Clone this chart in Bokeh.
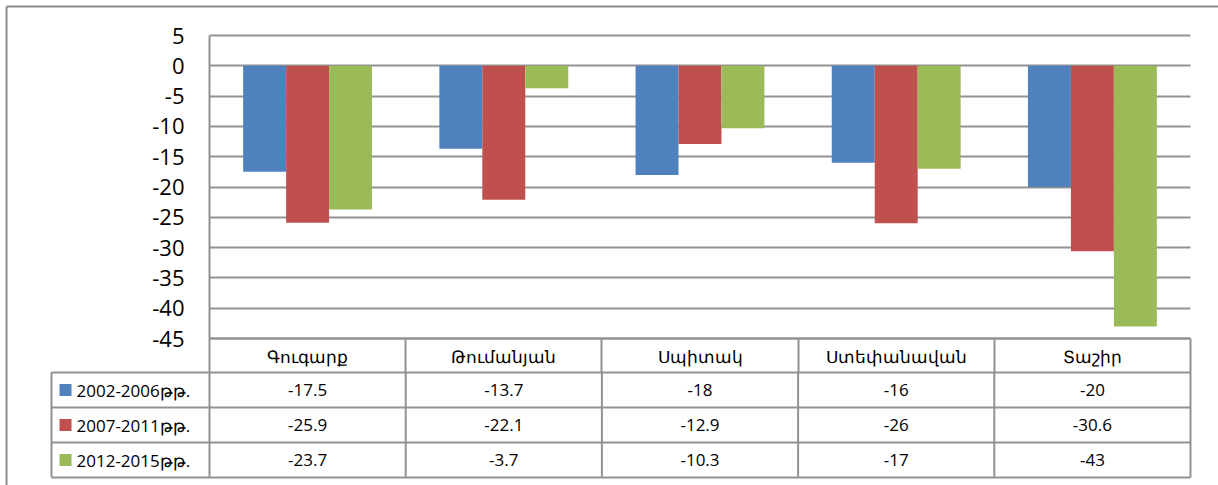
import numpy as np
from bokeh.plotting import figure
from bokeh.models import Range1d, FixedTicker, ColumnDataSource, LinearAxis, Grid
from bokeh.core.properties import value
from bokeh.embed import file_html
from bokeh.resources import INLINE

# ---------------- data ----------------
regions = ["Գուգարք", "Թումանյան", "Սպիտակ", "Ստեփանավան", "Տաշիր"]
periods = ["2002-2006թթ.", "2007-2011թթ.", "2012-2015թթ."]
s2002_2006 = [-17.5, -13.7, -18, -16, -20]
s2007_2011 = [-25.9, -22.1, -12.9, -26, -30.6]
s2012_2015 = [-23.7, -3.7, -10.3, -17, -43]
colors = ["#4F81BD", "#C0504D", "#9BBB59"]
y_ticks = [5, 0, -5, -10, -15, -20, -25, -30, -35, -40, -45]

series = [s2002_2006, s2007_2011, s2012_2015]

# ---------------- layout constants (pixels) ----------------
FONT = "Open Sans"
GRID = "#929292"
FRAME = "#8c8c8c"
W, H = 1218, 485
PL, PR = 209, 1190        # plot area left / right
PT, PB = 35, 338          # pixel rows of y=5 and y=-45
YMAX, YMIN = 5, -45
unit = (PR - PL) / len(regions)
ppu = (PB - PT) / (YMAX - YMIN)


def X(px):
    return (px - PL) / unit


def Y(py):
    return YMAX - (py - PT) / ppu


p = figure(width=W, height=H, output_backend="svg", toolbar_location=None,
           x_range=Range1d(X(0), X(W)), y_range=Range1d(Y(H), Y(0)),
           x_axis_type=None, y_axis_type=None, min_border=0,
           min_border_left=0, min_border_right=0, min_border_top=0, min_border_bottom=0)
p.outline_line_color = None
p.background_fill_color = "white"
p.border_fill_color = "white"

# outer chart-area frame (top and left edges)
p.segment(x0=[X(6), X(6)], y0=[Y(6), Y(6)], x1=[X(W), X(6)], y1=[Y(6), Y(H)],
          line_color=FRAME, line_width=2)

# horizontal gridlines, limited to the plot area
if "cross_bounds" in Grid.properties():
    grid = Grid(dimension=1, ticker=FixedTicker(ticks=y_ticks),
                grid_line_color=GRID, grid_line_width=2)
    grid.cross_bounds = (0, len(regions))
    p.add_layout(grid)
else:
    p.multi_line(xs=[[0, len(regions)] for _ in y_ticks], ys=[[v, v] for v in y_ticks],
                 line_color=GRID, line_width=2)

# y axis
yax = LinearAxis(fixed_location=0, bounds=(YMIN, YMAX))
yax.ticker = FixedTicker(ticks=y_ticks)
yax.major_label_overrides = {v: str(v) for v in y_ticks}
yax.axis_line_color = GRID
yax.axis_line_width = 2
yax.major_tick_line_color = None
yax.minor_tick_line_color = None
yax.major_tick_out = 0
yax.major_tick_in = 0
yax.minor_tick_out = 0
yax.minor_tick_in = 0
yax.major_label_standoff = 25
yax.major_label_text_font = FONT
yax.major_label_text_font_size = "22px"
yax.major_label_text_color = "black"
p.add_layout(yax, "left")

# bars
bw = 0.219
offs = [-bw, 0.0, bw]
xc = np.arange(len(regions)) + 0.5
for vals, c, o in zip(series, colors, offs):
    p.vbar(x=xc + o, top=0, bottom=vals, width=bw, fill_color=c, line_color=None)

# x axis = header row of the data table
xax = LinearAxis(fixed_location=YMIN, bounds=(0, len(regions)))
xax.ticker = FixedTicker(ticks=list(xc), minor_ticks=list(range(len(regions) + 1)))
xax.major_label_overrides = {float(x): r for x, r in zip(xc, regions)}
xax.axis_line_color = GRID
xax.axis_line_width = 2
xax.major_tick_line_color = None
xax.major_tick_out = 0
xax.major_tick_in = 0
xax.minor_tick_line_color = GRID
xax.minor_tick_line_width = 2
xax.minor_tick_out = 34
xax.minor_tick_in = 0
xax.major_label_standoff = -28
xax.major_label_text_font = FONT
xax.major_label_text_font_size = "17px"
xax.major_label_text_color = "black"
p.add_layout(xax, "below")

# ---------------- data table ----------------
row_px = [372, 407, 442, 477]
left_edge = X(51)
nrows = len(periods)
p.multi_line(xs=[[left_edge, len(regions)] for _ in row_px],
             ys=[[Y(r), Y(r)] for r in row_px], line_color=GRID, line_width=2)
vx = [left_edge] + list(range(len(regions) + 1))
p.multi_line(xs=[[v, v] for v in vx], ys=[[Y(row_px[0]), Y(row_px[-1])] for _ in vx],
             line_color=GRID, line_width=2)

row_y = [(Y(row_px[k]) + Y(row_px[k + 1])) / 2 for k in range(nrows)]
p.scatter(x=[X(65)] * nrows, y=row_y, marker="square", size=12,
          fill_color=colors, line_color=None)
p.text(x=[X(76)] * nrows, y=row_y, text=periods,
       text_font=value(FONT), text_font_size="17px", text_color="black",
       text_align="left", text_baseline="middle")

tx, ty, tt = [], [], []
for k, vals in enumerate(series):
    for i, v in enumerate(vals):
        tx.append(i + 0.5)
        ty.append(row_y[k])
        tt.append(f"{v:g}")
p.text(x="x", y="y", text="t", source=ColumnDataSource(dict(x=tx, y=ty, t=tt)),
       text_font=value(FONT), text_font_size="17px", text_color="black",
       text_align="center", text_baseline="middle")

open("out.html", "w").write(file_html(p, INLINE))
